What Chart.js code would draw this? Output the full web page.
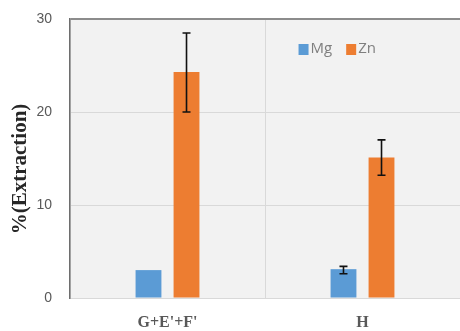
<!DOCTYPE html>
<html lang="en">
<head>
    <script src="https://cdn.jsdelivr.net/npm/chart.js"></script>
    <meta charset="UTF-8">
    <title>Extraction Mg / Zn</title>
<style>
    body { margin: 0; background: #ffffff; }
    #wrap { width: 460px; height: 331px; position: relative; }
</style>
</head>
<body>
<div id="wrap">
    <canvas id="myChart" width="460" height="331"></canvas>
</div>

<script>
// Données
const categories = ["G+E'+F'", "H"];
const seriesNames = ['Mg', 'Zn'];
const mgValues = [3.0, 3.1];
const znValues = [24.3, 15.1];
// barres d'erreur (bas, haut) ; null = pas de barre
const mgErrLow = [null, 2.6];
const mgErrHigh = [null, 3.4];
const znErrLow = [20.0, 13.2];
const znErrHigh = [28.5, 17.0];
const yTicks = [0, 10, 20, 30];

const colors = ['#5b9bd5', '#ed7d31'];

// fond gris de la zone du graphique
const plotBg = {
    id: 'plotBg',
    beforeDraw(chart) {
        const a = chart.chartArea, ctx = chart.ctx;
        ctx.save();
        ctx.fillStyle = '#f2f2f2';
        ctx.fillRect(a.left, a.top, a.right - a.left, a.bottom - a.top);
        ctx.restore();
    }
};

// barres d'erreur
const errorBars = {
    id: 'errorBars',
    afterDatasetsDraw(chart) {
        const ctx = chart.ctx, y = chart.scales.y;
        chart.data.datasets.forEach((ds, di) => {
            const meta = chart.getDatasetMeta(di);
            meta.data.forEach((bar, i) => {
                const lo = ds.errLow[i], hi = ds.errHigh[i];
                if (lo === null || hi === null) return;
                const y1 = y.getPixelForValue(lo), y2 = y.getPixelForValue(hi);
                ctx.save();
                ctx.strokeStyle = '#111111';
                ctx.lineWidth = 1.6;
                ctx.beginPath();
                ctx.moveTo(bar.x, y1); ctx.lineTo(bar.x, y2);
                ctx.moveTo(bar.x - 4, y1); ctx.lineTo(bar.x + 4, y1);
                ctx.moveTo(bar.x - 4, y2); ctx.lineTo(bar.x + 4, y2);
                ctx.stroke();
                ctx.restore();
            });
        });
    }
};

// légende à l'intérieur du graphique
const innerLegend = {
    id: 'innerLegend',
    afterDraw(chart) {
        const a = chart.chartArea, ctx = chart.ctx;
        let x = a.left + (a.right - a.left) * 0.586;
        const yMid = a.top + 30;
        ctx.save();
        ctx.font = '15px "Open Sans", sans-serif';
        ctx.textBaseline = 'middle';
        chart.data.datasets.forEach(ds => {
            ctx.fillStyle = ds.backgroundColor;
            ctx.fillRect(x, yMid - 5, 10, 11);
            ctx.fillStyle = '#7f7f7f';
            ctx.fillText(ds.label, x + 12, yMid);
            x += 12 + ctx.measureText(ds.label).width + 14;
        });
        ctx.restore();
    }
};

const ctx = document.getElementById('myChart').getContext('2d');
new Chart(ctx, {
    type: 'bar',
    data: {
        labels: categories,
        datasets: [{
            label: seriesNames[0],
            data: mgValues,
            errLow: mgErrLow,
            errHigh: mgErrHigh,
            backgroundColor: colors[0],
            barPercentage: 0.68,
            categoryPercentage: 0.39
        }, {
            label: seriesNames[1],
            data: znValues,
            errLow: znErrLow,
            errHigh: znErrHigh,
            backgroundColor: colors[1],
            barPercentage: 0.68,
            categoryPercentage: 0.39
        }]
    },
    options: {
        responsive: false,
        animation: false,
        layout: { padding: { top: 19, right: 0, left: 0, bottom: 0 } },
        plugins: {
            legend: { display: false },
            tooltip: { enabled: false }
        },
        scales: {
            x: {
                afterFit(scale) { scale.height = 33; },
                grid: { color: '#d9d9d9', drawTicks: false, offset: true },
                border: { color: '#d9d9d9' },
                ticks: {
                    color: '#595959',
                    padding: 15,
                    font: { family: '"Liberation Serif", serif', size: 16, weight: 'bold' }
                }
            },
            y: {
                min: 0,
                max: 30,
                afterBuildTicks(scale) { scale.ticks = yTicks.map(v => ({ value: v })); },
                afterFit(scale) {
                    scale.width = 70;
                    scale.paddingTop = 0;
                    scale.paddingBottom = 0;
                },
                grid: {
                    drawTicks: false,
                    color: c => (c.tick && c.tick.value === 30 ? '#8c8c8c' : '#d9d9d9'),
                    lineWidth: c => (c.tick && c.tick.value === 30 ? 2 : 1)
                },
                border: { color: '#6e6e6e', width: 1.5 },
                ticks: {
                    color: '#595959',
                    padding: 18,
                    font: { family: '"Liberation Sans", sans-serif', size: 14 }
                },
                title: {
                    display: true,
                    text: '%(Extraction)    ',
                    color: '#262626',
                    padding: { top: 8, bottom: 0 },
                    font: { family: '"Liberation Serif", serif', size: 21, weight: 'bold' }
                }
            }
        }
    },
    plugins: [plotBg, errorBars, innerLegend]
});
</script>
</body>
</html>
